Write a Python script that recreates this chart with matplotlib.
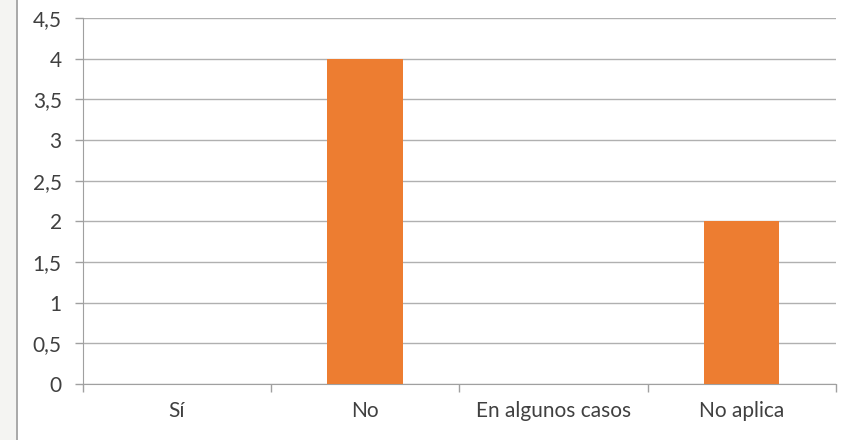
import numpy as np
import matplotlib.pyplot as plt
from matplotlib.patches import Rectangle
from matplotlib.lines import Line2D

# Data
categories = ["Sí", "No", "En algunos casos", "No aplica"]
values = [0, 4, 0, 2]
yticks = [0, 0.5, 1, 1.5, 2, 2.5, 3, 3.5, 4, 4.5]
ytick_labels = ["0", "0,5", "1", "1,5", "2", "2,5", "3", "3,5", "4", "4,5"]

plt.rcParams['font.family'] = ['Lato', 'DejaVu Sans']

fig = plt.figure(figsize=(8.44, 4.4), dpi=100)

# light strip on the left and the frame line
fig.patches.append(Rectangle((0, 0), 16 / 844, 1, transform=fig.transFigure,
                             facecolor="#f4f4f2", edgecolor="none", zorder=0))
fig.lines.append(Line2D([16.5 / 844, 16.5 / 844], [0, 1], transform=fig.transFigure,
                        color="#9a9a9a", linewidth=1.2))

ax = fig.add_axes([82.5 / 844, 56 / 440, 753.5 / 844, 366 / 440])

x = np.arange(len(categories))
ax.bar(x, values, width=0.4, color="#ED7D31", zorder=3)

ax.set_xlim(-0.5, len(categories) - 0.5)
ax.set_ylim(0, 4.5)
ax.set_yticks(yticks)
ax.set_yticklabels(ytick_labels)
ax.set_xticks(x)
ax.set_xticklabels(categories)

# category boundary ticks
ax.set_xticks(np.arange(-0.5, len(categories)), minor=True)
ax.tick_params(axis="x", which="major", length=0, pad=12, labelsize=15, labelcolor="#404040")
ax.tick_params(axis="x", which="minor", length=6, color="#a0a0a0", width=1)
ax.tick_params(axis="y", length=6, color="#a0a0a0", width=1, labelsize=15,
               labelcolor="#404040", pad=9)

ax.yaxis.grid(True, color="#b0b0b0", linewidth=1, zorder=0)
ax.set_axisbelow(True)
for s in ["top", "right"]:
    ax.spines[s].set_visible(False)
ax.spines["left"].set_color("#a0a0a0")
ax.spines["bottom"].set_color("#a0a0a0")

fig.savefig("out.png", dpi=100)
